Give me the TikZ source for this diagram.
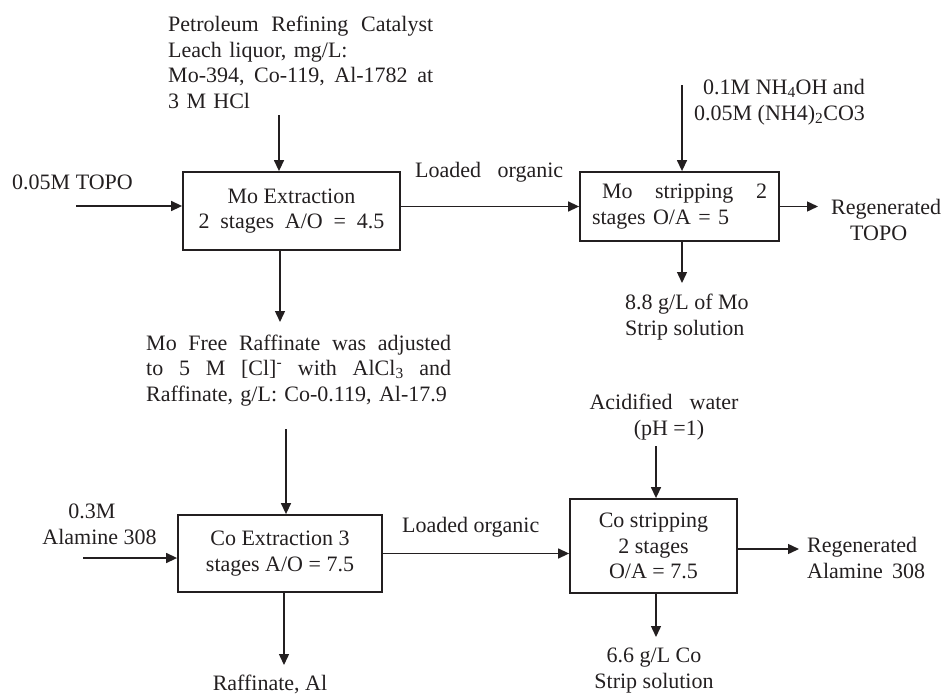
\documentclass[tikz,border=0pt]{standalone}
\usepackage{fontspec}
\setmainfont{Liberation Serif}
\usetikzlibrary{arrows.meta}
\definecolor{ink}{HTML}{231F20}
\newcommand{\jline}[2]{\makebox[#1][s]{#2}}
\begin{document}
\begin{tikzpicture}[x=1pt,y=-1pt,
  every node/.style={font=\fontsize{22}{25.5}\selectfont, text=ink},
  procbox/.style={draw=ink, line width=1.8pt, rectangle, inner sep=0pt, align=center},
  flow/.style={draw=ink, line width=1.4pt, -{Triangle[length=11pt,width=10pt]}},
  lbl/.style={inner sep=0pt},
]
\useasboundingbox (0,0) rectangle (941,693);

% process boxes
\node[procbox, minimum width=217pt, minimum height=78pt] (moext) at (291.5,211)
  {Mo Extraction\\\jline{186pt}{2\hfil{} stages\hfil{} A/O\hfil{} =\hfil{} 4.5}};
\node[procbox, minimum width=199pt, minimum height=69pt, text width=175pt, align=left] (mostr) at (679.5,206.5)
  {\hspace*{10pt}\jline{165pt}{Mo\hfill stripping\hfill 2}\\stages O/A = 5};
\node[procbox, minimum width=204pt, minimum height=77pt] (coext) at (280,553.5)
  {Co Extraction 3\\stages A/O = 7.5};
\node[procbox, minimum width=167pt, minimum height=94pt] (costr) at (653.5,546)
  {Co stripping\\2 stages\\O/A = 7.5};

% labels (text-width nodes: first baseline; others: last baseline)
\node[lbl, text width=265pt, align=left, anchor=base west] (feed) at (168,32)
  {\jline{265pt}{Petroleum\hfill Refining\hfill Catalyst}\\
   Leach liquor, mg/L:\\
   \jline{265pt}{Mo-394,\hfill Co-119,\hfill Al-1782\hfill at}\\
   3 M HCl};
\node[lbl, anchor=base west] (topo) at (12,189) {0.05M TOPO};
\node[lbl, anchor=base west] (load1) at (415,177) {\jline{148pt}{Loaded\hfill organic}};
\node[lbl, align=left, anchor=base west] (nh) at (694,120)
  {\hspace*{9pt}0.1M NH\textsubscript{4}OH and\\0.05M (NH4)\textsubscript{2}CO3};
\node[lbl, align=center, anchor=base west] (regtopo) at (831,240)
  {Regenerated\\\hspace*{-15pt}TOPO};
\node[lbl, align=left, anchor=base west] (mostrip) at (625,335)
  {8.8 g/L of Mo\\Strip solution};
\node[lbl, text width=305pt, align=left, anchor=base west] (mofree) at (146,350)
  {\jline{305pt}{Mo\hfill Free\hfill Raffinate\hfill was\hfill adjusted}\\
   \jline{305pt}{to\hfill 5\hfill M\hfill [Cl]\textsuperscript{-}\hfill with\hfill AlCl\textsubscript{3}\hfill and}\\
   Raffinate, g/L: Co-0.119, Al-17.9};
\node[lbl, align=center, anchor=base] (alam) at (99.5,544) {\hspace*{-15pt}0.3M\\Alamine 308};
\node[lbl, anchor=base west] (load2) at (402,532) {Loaded organic};
\node[lbl, anchor=base] (raff) at (270,690) {Raffinate, Al};
\node[lbl, align=center, anchor=base] (acid) at (664,435)
  {\jline{149pt}{Acidified\hfill water}\\\hspace*{10pt}(pH =1)};
\node[lbl, align=left, anchor=base west] (regalam) at (807,578)
  {Regenerated\\\jline{118pt}{Alamine\hfill 308}};
\node[lbl, align=center, anchor=base] (costrip) at (654,688)
  {6.6 g/L Co\\Strip solution};

% free ends of connectors
\coordinate (feedin) at (279,115);
\coordinate (topoin) at (76,206);
\coordinate (nhin) at (682,85);
\coordinate (regtopoout) at (818,206.5);
\coordinate (mostripout) at (682,283);
\coordinate (mofreeout) at (280,322);
\coordinate (mofreein) at (286,429);
\coordinate (alamin) at (83,558);
\coordinate (raffout) at (284,665);
\coordinate (acidin) at (656,446);
\coordinate (regalamout) at (799,549);
\coordinate (costripout) at (656,637);

% connectors
\draw[flow] (feedin) -- (feedin |- moext.north);
\draw[flow] (topoin) -- (topoin -| moext.west);
\draw[flow] (mostr.west -| moext.east) -- (mostr.west);
\draw[flow] (nhin) -- (nhin |- mostr.north);
\draw[flow] (mostr.east) -- (regtopoout);
\draw[flow] (mostripout |- mostr.south) -- (mostripout);
\draw[flow] (mofreeout |- moext.south) -- (mofreeout);
\draw[flow] (mofreein) -- (mofreein |- coext.north);
\draw[flow] (alamin) -- (alamin -| coext.west);
\draw[flow] (coext.east) -- (coext.east -| costr.west);
\draw[flow] (raffout |- coext.south) -- (raffout);
\draw[flow] (acidin) -- (acidin |- costr.north);
\draw[flow] (regalamout -| costr.east) -- (regalamout);
\draw[flow] (costripout |- costr.south) -- (costripout);
\end{tikzpicture}
\end{document}
